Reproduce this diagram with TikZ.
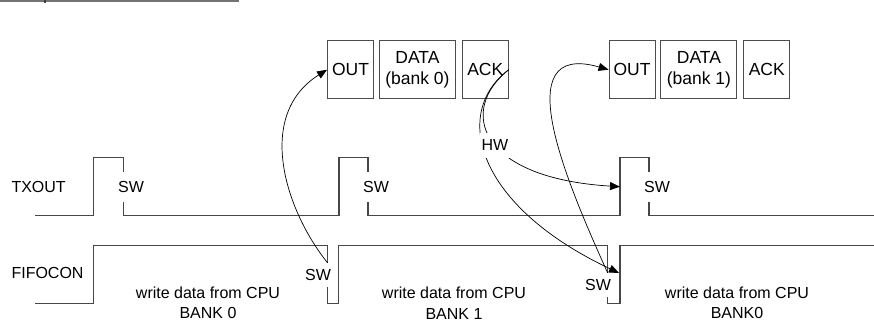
\documentclass[tikz,border=0pt]{standalone}
\usepackage{fontspec}
\setmainfont{Liberation Sans}
\usetikzlibrary{arrows.meta,positioning}

\tikzset{
  sig/.style={draw=black!72, line width=1.1pt},
  reg/.style={draw=black!70, line width=0.9pt, minimum width=46pt, minimum height=58pt,
    inner sep=0pt, align=center, font=\fontsize{17.5}{21}\selectfont},
  swt/.style={fill=white, inner xsep=1pt, inner ysep=9pt},
  swf/.style={fill=white, inner xsep=1pt, inner ysep=6pt},
  flow/.style={draw=black, line width=0.7pt, -{Triangle[length=10pt,width=8pt]}},
}

\begin{document}
\begin{tikzpicture}[x=1pt, y=-1pt, font=\fontsize{16}{20.5}\selectfont]
  \useasboundingbox (0,0) rectangle (874,322);
  % cut-off rule at the top
  \draw[black!55, line width=2pt] (0,1) -- (239,1);
  \draw[black!75, line width=1.2pt] (45,0) -- (45,3);

  % registers
  \node[reg] (out0) at (350.5,69.7) {OUT};
  \node[reg, minimum width=76pt, right=5pt of out0] (data0) {DATA\\(bank 0)};
  \node[reg, right=6pt of data0] (ack0) {ACK};
  \node[reg] (out1) at (632,69.7) {OUT};
  \node[reg, minimum width=76pt, right=5pt of out1] (data1) {DATA\\(bank 1)};
  \node[reg, right=6pt of data1] (ack1) {ACK};

  % signals
  \node[anchor=west] (txout) at (8,187) {TXOUT};
  \node[anchor=west] (fifocon) at (8,273) {FIFOCON};
  \draw[sig] (35,215.7) -| (93.3,157.3) -| (123.3,215.7) -| (339,157.3) -| (368,215.7)
    -| (620,157.3) -| (649,215.7) -- (874,215.7);
  \draw[sig] (35,303.3) -| (93.3,245.7) -| (327.7,303.3) -| (338.3,245.7) -| (607.7,303.3)
    -| (620,245.7) -- (874,245.7);
  \coordinate (f1) at (327.7,263);
  \coordinate (f2) at (607.7,273);
  \coordinate (f2in) at (619,273);
  \coordinate (t3) at (620,186.7);

  % transfers
  \draw[flow] (f1) .. controls (285,210) and (255,115) .. (out0.west);
  \draw[flow] (ack0.east) .. controls (458,110) and (478,178) .. (t3);
  \draw[flow] (ack0.east) .. controls (452,112) and (475,205) .. (f2in);
  \draw[flow] (f2) .. controls (568,185) and (505,40) .. (out1.west);

  % labels
  \node[swt] (swt1) at (131,187) {SW};
  \node[swt] (swt2) at (376,187) {SW};
  \node[swt] (swt3) at (657,187) {SW};
  \node[swf] (swf1) at (318,275) {SW};
  \node[swf] (swf2) at (598,285) {SW};
  \node[fill=white, inner xsep=2pt, inner ysep=7pt] (hw) at (495,145) {HW};
  \node[align=center] (cpu0) at (208,303) {write data from CPU\\BANK 0};
  \node[align=center] (cpu1) at (454,303) {write data from CPU\\BANK 1};
  \node[align=center] (cpu2) at (737,303) {write data from CPU\\BANK0};
\end{tikzpicture}
\end{document}
